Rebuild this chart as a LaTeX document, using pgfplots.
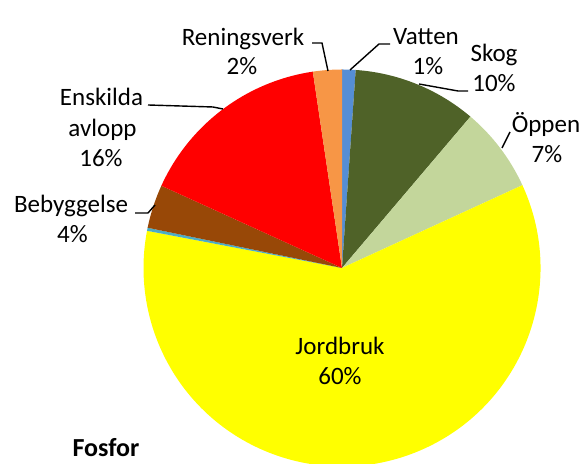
\documentclass[border=0pt]{standalone}
\usepackage{fontspec}
\setmainfont{Carlito}
\usepackage{pgfplots}
\usepackage{pgfplotstable}
\pgfplotsset{compat=1.18}
\definecolor{cVatten}{HTML}{558ED5}
\definecolor{cSkog}{HTML}{4F6228}
\definecolor{cOppen}{HTML}{C3D69B}
\definecolor{cJord}{HTML}{FFFF00}
\definecolor{cOvr}{HTML}{4BACC6}
\definecolor{cBeb}{HTML}{984807}
\definecolor{cEnsk}{HTML}{FF0000}
\definecolor{cRen}{HTML}{F79646}
\tikzset{lbl/.style={font=\fontsize{12.5pt}{15pt}\selectfont,inner sep=0pt,anchor=base,text=black}}
\pgfplotstableread{
name value col
Vatten 1.1 cVatten
Skog 10.1 cSkog
Oppen 6.95 cOppen
Jordbruk 59.85 cJord
Ovrigt 0.25 cOvr
Bebyggelse 3.55 cBeb
Enskilda 15.85 cEnsk
Reningsverk 2.35 cRen
}\piedata
\begin{document}
\begin{tikzpicture}
\useasboundingbox (0,0) rectangle (292pt,232pt);
\begin{axis}[x=0.5pt,y=0.5pt,xmin=0,xmax=584,ymin=0,ymax=464,hide axis,
  at={(0,0)},anchor=south west,clip=true]
\pgfplotsextra{%
  \def\cumA{0}%
  \pgfplotsforeachungrouped \i in {0,...,7}{%
    \pgfplotstablegetelem{\i}{value}\of\piedata
    \pgfmathsetmacro\cumB{\cumA+3.6*\pgfplotsretval}%
    \pgfplotstablegetelem{\i}{col}\of\piedata
    \edef\slicecol{\pgfplotsretval}%
    \pgfmathsetmacro\sA{90-\cumA}%
    \pgfmathsetmacro\sB{90-\cumB}%
    \fill[\slicecol] (axis cs:342,196) -- ++(\sA:99.25pt) arc[start angle=\sA,end angle=\sB,radius=99.25pt] -- cycle;
    \global\let\cumA\cumB
  }%
}
% leader lines
\draw[black,line width=0.7pt] (axis cs:312,421) -- (axis cs:322,421) -- (axis cs:328,393);
\draw[black,line width=0.7pt] (axis cs:390,420) -- (axis cs:379,420) -- (axis cs:350,394);
\draw[black,line width=0.7pt] (axis cs:468,373) -- (axis cs:458,373) -- (axis cs:419,380);
\draw[black,line width=0.7pt] (axis cs:510,332) -- (axis cs:502,316);
\draw[black,line width=0.7pt] (axis cs:148,359) -- (axis cs:213,357) -- (axis cs:223,355);
\draw[black,line width=0.7pt] (axis cs:135,251) -- (axis cs:148,251) -- (axis cs:155,259);
% labels
\node[lbl] at (axis cs:243,418) {Reningsverk};
\node[lbl] at (axis cs:242,389) {2\%};
\node[lbl] at (axis cs:426,419) {Vatten};
\node[lbl] at (axis cs:428,389) {1\%};
\node[lbl] at (axis cs:494,402) {Skog};
\node[lbl] at (axis cs:494,372) {10\%};
\node[lbl] at (axis cs:546,331) {Öppen};
\node[lbl] at (axis cs:547,301) {7\%};
\node[lbl] at (axis cs:340,109) {Jordbruk};
\node[lbl] at (axis cs:340,79) {60\%};
\node[lbl] at (axis cs:101.5,358) {Enskilda};
\node[lbl] at (axis cs:102.5,327) {avlopp};
\node[lbl] at (axis cs:101,297) {16\%};
\node[lbl] at (axis cs:71,251) {Bebyggelse};
\node[lbl] at (axis cs:72.5,221) {4\%};
\node[lbl,font=\fontsize{13pt}{15pt}\selectfont\bfseries] at (axis cs:106,7) {Fosfor};
\end{axis}
\end{tikzpicture}
\end{document}
